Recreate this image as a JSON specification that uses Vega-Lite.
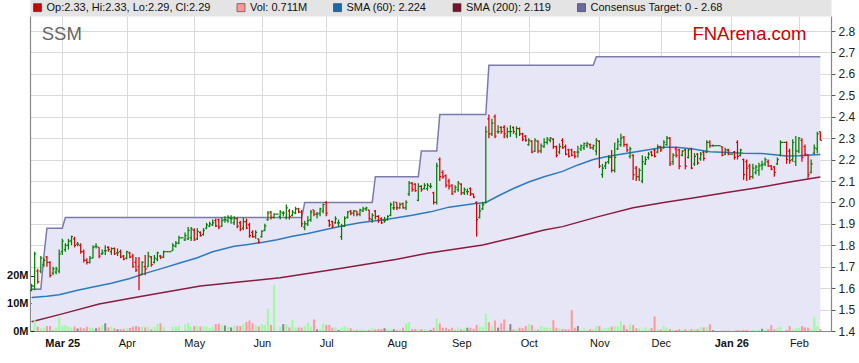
{
"$schema": "https://vega.github.io/schema/vega-lite/v6.json",
"width": 801, "height": 315,
"autosize": "none",
"padding": {"left": 30, "top": 16, "right": 28, "bottom": 32},
"background": "#ffffff",
"config": {"font": "Liberation Sans", "view": {"stroke": null}, "axis": {"labelFont": "Liberation Sans"}, "legend": {"labelFont": "Liberation Sans"},
  "axisRight": {"labelOverlap": false}},
"datasets": {
"px": [
{"d":-10,"o":1.59,"h":1.62,"l":1.585,"c":1.61,"v":0.4,"t":1.595},
{"d":-9,"o":1.61,"h":1.77,"l":1.59,"c":1.76,"v":3.9,"t":1.595},
{"d":-8,"o":1.68,"h":1.69,"l":1.62,"c":1.63,"v":1.6,"t":1.595},
{"d":-7,"o":1.68,"h":1.75,"l":1.67,"c":1.74,"v":1.0,"t":1.595},
{"d":-6,"o":1.71,"h":1.74,"l":1.70,"c":1.73,"v":1.3,"t":1.75},
{"d":-5,"o":1.745,"h":1.75,"l":1.70,"c":1.72,"v":1.8,"t":1.88},
{"d":-4,"o":1.72,"h":1.725,"l":1.65,"c":1.66,"v":1.8,"t":1.88},
{"d":-3,"o":1.67,"h":1.70,"l":1.66,"c":1.69,"v":0.7,"t":1.88},
{"d":-2,"o":1.675,"h":1.70,"l":1.665,"c":1.69,"v":1.2,"t":1.88},
{"d":-1,"o":1.68,"h":1.78,"l":1.67,"c":1.76,"v":5.0,"t":1.88},
{"d":0,"o":1.77,"h":1.83,"l":1.755,"c":1.82,"v":1.9,"t":1.88},
{"d":1,"o":1.78,"h":1.81,"l":1.77,"c":1.80,"v":2.2,"t":1.93},
{"d":2,"o":1.80,"h":1.83,"l":1.78,"c":1.82,"v":1.6,"t":1.93},
{"d":3,"o":1.82,"h":1.845,"l":1.80,"c":1.84,"v":1.2,"t":1.93},
{"d":4,"o":1.83,"h":1.84,"l":1.79,"c":1.80,"v":1.6,"t":1.93},
{"d":5,"o":1.805,"h":1.815,"l":1.795,"c":1.805,"v":0.9,"t":1.93},
{"d":6,"o":1.80,"h":1.81,"l":1.76,"c":1.77,"v":1.3,"t":1.93},
{"d":7,"o":1.77,"h":1.78,"l":1.72,"c":1.73,"v":1.0,"t":1.93},
{"d":8,"o":1.73,"h":1.74,"l":1.71,"c":1.72,"v":1.6,"t":1.93},
{"d":9,"o":1.72,"h":1.75,"l":1.715,"c":1.74,"v":1.3,"t":1.93},
{"d":10,"o":1.74,"h":1.80,"l":1.74,"c":1.79,"v":1.2,"t":1.93},
{"d":11,"o":1.795,"h":1.81,"l":1.785,"c":1.795,"v":1.0,"t":1.93},
{"d":12,"o":1.79,"h":1.79,"l":1.74,"c":1.75,"v":1.3,"t":1.93},
{"d":13,"o":1.76,"h":1.78,"l":1.755,"c":1.765,"v":2.2,"t":1.93},
{"d":14,"o":1.775,"h":1.80,"l":1.755,"c":1.775,"v":2.8,"t":1.93},
{"d":15,"o":1.79,"h":1.795,"l":1.77,"c":1.78,"v":1.3,"t":1.93},
{"d":16,"o":1.77,"h":1.79,"l":1.755,"c":1.785,"v":1.6,"t":1.93},
{"d":17,"o":1.785,"h":1.79,"l":1.755,"c":1.76,"v":1.0,"t":1.93},
{"d":18,"o":1.765,"h":1.785,"l":1.75,"c":1.765,"v":0.6,"t":1.93},
{"d":19,"o":1.77,"h":1.78,"l":1.74,"c":1.745,"v":0.7,"t":1.93},
{"d":20,"o":1.75,"h":1.755,"l":1.73,"c":1.735,"v":0.7,"t":1.93},
{"d":21,"o":1.74,"h":1.775,"l":1.735,"c":1.77,"v":1.0,"t":1.93},
{"d":22,"o":1.765,"h":1.77,"l":1.74,"c":1.745,"v":1.1,"t":1.93},
{"d":23,"o":1.75,"h":1.76,"l":1.695,"c":1.70,"v":1.6,"t":1.93},
{"d":24,"o":1.72,"h":1.745,"l":1.675,"c":1.685,"v":1.8,"t":1.93},
{"d":25,"o":1.70,"h":1.745,"l":1.59,"c":1.66,"v":1.5,"t":1.93},
{"d":26,"o":1.665,"h":1.725,"l":1.66,"c":1.72,"v":1.6,"t":1.93},
{"d":27,"o":1.70,"h":1.755,"l":1.66,"c":1.69,"v":1.3,"t":1.93},
{"d":28,"o":1.70,"h":1.77,"l":1.70,"c":1.75,"v":1.5,"t":1.93},
{"d":29,"o":1.745,"h":1.75,"l":1.70,"c":1.71,"v":0.7,"t":1.93},
{"d":30,"o":1.72,"h":1.755,"l":1.715,"c":1.74,"v":1.5,"t":1.93},
{"d":31,"o":1.735,"h":1.77,"l":1.725,"c":1.765,"v":2.6,"t":1.93},
{"d":32,"o":1.75,"h":1.755,"l":1.735,"c":1.745,"v":2.8,"t":1.93},
{"d":33,"o":1.745,"h":1.775,"l":1.74,"c":1.77,"v":1.5,"t":1.93},
{"d":34,"o":1.77,"h":1.77,"l":1.77,"c":1.77,"v":0,"t":1.93},
{"d":35,"o":1.77,"h":1.77,"l":1.77,"c":1.77,"v":0,"t":1.93},
{"d":36,"o":1.775,"h":1.81,"l":1.775,"c":1.80,"v":1.6,"t":1.93},
{"d":37,"o":1.795,"h":1.82,"l":1.79,"c":1.81,"v":1.6,"t":1.93},
{"d":38,"o":1.81,"h":1.845,"l":1.805,"c":1.835,"v":2.0,"t":1.93},
{"d":39,"o":1.835,"h":1.835,"l":1.835,"c":1.835,"v":0,"t":1.93},
{"d":40,"o":1.825,"h":1.86,"l":1.82,"c":1.845,"v":2.4,"t":1.93},
{"d":41,"o":1.83,"h":1.885,"l":1.825,"c":1.87,"v":2.9,"t":1.93},
{"d":42,"o":1.835,"h":1.885,"l":1.82,"c":1.875,"v":1.6,"t":1.93},
{"d":43,"o":1.87,"h":1.88,"l":1.82,"c":1.825,"v":1.8,"t":1.93},
{"d":44,"o":1.83,"h":1.88,"l":1.825,"c":1.865,"v":1.9,"t":1.93},
{"d":45,"o":1.86,"h":1.865,"l":1.84,"c":1.845,"v":1.6,"t":1.93},
{"d":46,"o":1.85,"h":1.88,"l":1.845,"c":1.87,"v":1.6,"t":1.93},
{"d":47,"o":1.88,"h":1.905,"l":1.875,"c":1.895,"v":1.6,"t":1.93},
{"d":48,"o":1.89,"h":1.91,"l":1.885,"c":1.90,"v":1.1,"t":1.93},
{"d":49,"o":1.895,"h":1.92,"l":1.89,"c":1.905,"v":1.6,"t":1.93},
{"d":50,"o":1.915,"h":1.925,"l":1.885,"c":1.89,"v":2.5,"t":1.93},
{"d":51,"o":1.92,"h":1.925,"l":1.875,"c":1.885,"v":2.7,"t":1.93},
{"d":52,"o":1.89,"h":1.93,"l":1.885,"c":1.915,"v":2.0,"t":1.93},
{"d":53,"o":1.92,"h":1.935,"l":1.905,"c":1.92,"v":2.0,"t":1.93},
{"d":54,"o":1.915,"h":1.94,"l":1.905,"c":1.93,"v":1.6,"t":1.93},
{"d":55,"o":1.925,"h":1.94,"l":1.90,"c":1.925,"v":1.3,"t":1.93},
{"d":56,"o":1.905,"h":1.935,"l":1.895,"c":1.925,"v":1.9,"t":1.93},
{"d":57,"o":1.925,"h":1.93,"l":1.88,"c":1.89,"v":1.9,"t":1.93},
{"d":58,"o":1.905,"h":1.915,"l":1.865,"c":1.875,"v":1.8,"t":1.93},
{"d":59,"o":1.88,"h":1.93,"l":1.87,"c":1.91,"v":2.4,"t":1.93},
{"d":60,"o":1.91,"h":1.925,"l":1.875,"c":1.88,"v":3.3,"t":1.93},
{"d":61,"o":1.895,"h":1.905,"l":1.835,"c":1.845,"v":3.8,"t":1.93},
{"d":62,"o":1.86,"h":1.87,"l":1.835,"c":1.84,"v":2.8,"t":1.93},
{"d":63,"o":1.84,"h":1.87,"l":1.83,"c":1.86,"v":2.2,"t":1.93},
{"d":64,"o":1.83,"h":1.83,"l":1.81,"c":1.815,"v":1.6,"t":1.93},
{"d":65,"o":1.84,"h":1.87,"l":1.835,"c":1.865,"v":2.5,"t":1.93},
{"d":66,"o":1.87,"h":1.90,"l":1.865,"c":1.89,"v":2.2,"t":1.93},
{"d":67,"o":1.92,"h":1.96,"l":1.915,"c":1.95,"v":8.1,"t":1.93},
{"d":68,"o":1.955,"h":1.96,"l":1.92,"c":1.93,"v":2.2,"t":1.93},
{"d":69,"o":1.93,"h":1.95,"l":1.925,"c":1.945,"v":16.8,"t":1.93},
{"d":70,"o":1.945,"h":1.945,"l":1.945,"c":1.945,"v":0,"t":1.93},
{"d":71,"o":1.935,"h":1.965,"l":1.92,"c":1.955,"v":1.6,"t":1.93},
{"d":72,"o":1.95,"h":1.96,"l":1.935,"c":1.95,"v":2.5,"t":1.93},
{"d":73,"o":1.93,"h":1.99,"l":1.92,"c":1.975,"v":2.5,"t":1.93},
{"d":74,"o":1.96,"h":1.97,"l":1.92,"c":1.935,"v":1.3,"t":1.93},
{"d":75,"o":1.94,"h":1.965,"l":1.935,"c":1.955,"v":4.0,"t":1.93},
{"d":76,"o":1.95,"h":1.98,"l":1.945,"c":1.97,"v":1.3,"t":1.93},
{"d":77,"o":1.97,"h":1.975,"l":1.95,"c":1.955,"v":1.3,"t":1.93},
{"d":78,"o":1.955,"h":1.965,"l":1.885,"c":1.90,"v":1.2,"t":1.93},
{"d":79,"o":1.885,"h":1.915,"l":1.87,"c":1.90,"v":1.8,"t":2.00},
{"d":80,"o":1.90,"h":1.935,"l":1.89,"c":1.915,"v":3.0,"t":2.00},
{"d":81,"o":1.92,"h":1.965,"l":1.91,"c":1.955,"v":1.6,"t":2.00},
{"d":82,"o":1.965,"h":1.965,"l":1.935,"c":1.945,"v":4.2,"t":2.00},
{"d":83,"o":1.945,"h":1.955,"l":1.925,"c":1.945,"v":0.6,"t":2.00},
{"d":84,"o":1.95,"h":1.975,"l":1.935,"c":1.97,"v":0.7,"t":2.00},
{"d":85,"o":1.96,"h":1.995,"l":1.95,"c":1.99,"v":2.8,"t":2.00},
{"d":86,"o":2.00,"h":2.005,"l":1.935,"c":1.95,"v":2.2,"t":2.00},
{"d":87,"o":1.915,"h":1.92,"l":1.885,"c":1.895,"v":2.2,"t":2.00},
{"d":88,"o":1.91,"h":1.915,"l":1.88,"c":1.89,"v":1.2,"t":2.00},
{"d":89,"o":1.905,"h":1.935,"l":1.90,"c":1.925,"v":1.3,"t":2.00},
{"d":90,"o":1.905,"h":1.92,"l":1.885,"c":1.905,"v":0.4,"t":2.00},
{"d":91,"o":1.84,"h":1.90,"l":1.825,"c":1.89,"v":1.3,"t":2.00},
{"d":92,"o":1.89,"h":1.935,"l":1.885,"c":1.925,"v":1.8,"t":2.00},
{"d":93,"o":1.93,"h":1.96,"l":1.925,"c":1.955,"v":1.2,"t":2.00},
{"d":94,"o":1.96,"h":1.965,"l":1.94,"c":1.95,"v":1.0,"t":2.00},
{"d":95,"o":1.95,"h":1.965,"l":1.935,"c":1.96,"v":0.6,"t":2.00},
{"d":96,"o":1.96,"h":1.96,"l":1.935,"c":1.945,"v":0.4,"t":2.00},
{"d":97,"o":1.945,"h":1.97,"l":1.935,"c":1.965,"v":0.6,"t":2.00},
{"d":98,"o":1.96,"h":1.98,"l":1.955,"c":1.97,"v":0.6,"t":2.00},
{"d":99,"o":1.97,"h":1.98,"l":1.96,"c":1.975,"v":0.4,"t":2.00},
{"d":100,"o":1.965,"h":1.965,"l":1.915,"c":1.925,"v":0.4,"t":2.00},
{"d":101,"o":1.92,"h":1.95,"l":1.905,"c":1.94,"v":1.0,"t":2.00},
{"d":102,"o":1.96,"h":1.965,"l":1.92,"c":1.935,"v":0.6,"t":2.12},
{"d":103,"o":1.935,"h":1.94,"l":1.905,"c":1.915,"v":0.7,"t":2.12},
{"d":104,"o":1.925,"h":1.93,"l":1.90,"c":1.905,"v":0.7,"t":2.12},
{"d":105,"o":1.915,"h":1.933,"l":1.905,"c":1.915,"v":1.0,"t":2.12},
{"d":106,"o":1.92,"h":1.94,"l":1.915,"c":1.935,"v":0.7,"t":2.12},
{"d":107,"o":1.94,"h":2.00,"l":1.935,"c":1.99,"v":0.7,"t":2.12},
{"d":108,"o":1.975,"h":2.005,"l":1.965,"c":1.975,"v":0.6,"t":2.12},
{"d":109,"o":2.00,"h":2.00,"l":1.965,"c":1.975,"v":0.4,"t":2.12},
{"d":110,"o":1.975,"h":2.00,"l":1.97,"c":1.99,"v":0.6,"t":2.12},
{"d":111,"o":1.995,"h":2.00,"l":1.97,"c":1.975,"v":1.2,"t":2.12},
{"d":112,"o":1.975,"h":2.01,"l":1.965,"c":2.00,"v":2.8,"t":2.12},
{"d":113,"o":2.04,"h":2.10,"l":2.03,"c":2.09,"v":3.2,"t":2.12},
{"d":114,"o":2.09,"h":2.095,"l":2.05,"c":2.06,"v":0.7,"t":2.12},
{"d":115,"o":2.085,"h":2.09,"l":2.05,"c":2.055,"v":0.7,"t":2.12},
{"d":116,"o":2.01,"h":2.09,"l":2.005,"c":2.075,"v":0.6,"t":2.12},
{"d":117,"o":2.075,"h":2.08,"l":2.05,"c":2.06,"v":0.7,"t":2.24},
{"d":118,"o":2.065,"h":2.09,"l":2.06,"c":2.08,"v":0.7,"t":2.24},
{"d":119,"o":2.065,"h":2.09,"l":2.055,"c":2.08,"v":0.4,"t":2.24},
{"d":120,"o":2.075,"h":2.09,"l":2.065,"c":2.075,"v":0.4,"t":2.24},
{"d":121,"o":2.045,"h":2.05,"l":1.99,"c":2.00,"v":1.2,"t":2.24},
{"d":122,"o":2.00,"h":2.185,"l":1.99,"c":2.17,"v":4.6,"t":2.24},
{"d":123,"o":2.20,"h":2.21,"l":2.10,"c":2.12,"v":2.8,"t":2.41},
{"d":124,"o":2.14,"h":2.15,"l":2.11,"c":2.12,"v":1.2,"t":2.41},
{"d":125,"o":2.125,"h":2.13,"l":2.07,"c":2.08,"v":1.2,"t":2.41},
{"d":126,"o":2.10,"h":2.11,"l":2.06,"c":2.075,"v":0.7,"t":2.41},
{"d":127,"o":2.08,"h":2.085,"l":2.035,"c":2.04,"v":1.2,"t":2.41},
{"d":128,"o":2.05,"h":2.08,"l":2.045,"c":2.07,"v":0.7,"t":2.41},
{"d":129,"o":2.06,"h":2.10,"l":2.05,"c":2.09,"v":1.3,"t":2.41},
{"d":130,"o":2.085,"h":2.09,"l":2.035,"c":2.045,"v":0.7,"t":2.41},
{"d":131,"o":2.045,"h":2.07,"l":2.035,"c":2.06,"v":1.0,"t":2.41},
{"d":132,"o":2.05,"h":2.065,"l":2.035,"c":2.05,"v":1.2,"t":2.41},
{"d":133,"o":2.065,"h":2.07,"l":2.03,"c":2.04,"v":1.2,"t":2.41},
{"d":134,"o":2.04,"h":2.04,"l":2.02,"c":2.025,"v":0.8,"t":2.41},
{"d":135,"o":2.00,"h":2.005,"l":1.84,"c":1.92,"v":2.2,"t":2.41},
{"d":136,"o":1.93,"h":1.99,"l":1.925,"c":1.96,"v":1.6,"t":2.41},
{"d":137,"o":1.97,"h":2.003,"l":1.965,"c":1.99,"v":1.5,"t":2.41},
{"d":138,"o":2.00,"h":2.355,"l":1.995,"c":2.33,"v":6.2,"t":2.41},
{"d":139,"o":2.39,"h":2.41,"l":2.30,"c":2.32,"v":3.2,"t":2.64},
{"d":140,"o":2.32,"h":2.39,"l":2.31,"c":2.37,"v":1.6,"t":2.64},
{"d":141,"o":2.40,"h":2.41,"l":2.30,"c":2.31,"v":3.8,"t":2.64},
{"d":142,"o":2.33,"h":2.36,"l":2.32,"c":2.33,"v":1.2,"t":2.64},
{"d":143,"o":2.35,"h":2.355,"l":2.32,"c":2.33,"v":2.8,"t":2.64},
{"d":144,"o":2.35,"h":2.36,"l":2.30,"c":2.32,"v":4.2,"t":2.64},
{"d":145,"o":2.31,"h":2.35,"l":2.30,"c":2.33,"v":0.6,"t":2.64},
{"d":146,"o":2.33,"h":2.36,"l":2.305,"c":2.33,"v":2.5,"t":2.64},
{"d":147,"o":2.35,"h":2.355,"l":2.32,"c":2.33,"v":0.6,"t":2.64},
{"d":148,"o":2.32,"h":2.355,"l":2.30,"c":2.345,"v":0.7,"t":2.64},
{"d":149,"o":2.345,"h":2.35,"l":2.31,"c":2.32,"v":1.2,"t":2.64},
{"d":150,"o":2.32,"h":2.325,"l":2.285,"c":2.295,"v":1.0,"t":2.64},
{"d":151,"o":2.31,"h":2.315,"l":2.283,"c":2.29,"v":1.8,"t":2.64},
{"d":152,"o":2.27,"h":2.30,"l":2.265,"c":2.29,"v":2.5,"t":2.64},
{"d":153,"o":2.285,"h":2.29,"l":2.23,"c":2.235,"v":2.2,"t":2.64},
{"d":154,"o":2.24,"h":2.30,"l":2.235,"c":2.29,"v":0.6,"t":2.64},
{"d":155,"o":2.285,"h":2.29,"l":2.23,"c":2.24,"v":0.6,"t":2.64},
{"d":156,"o":2.24,"h":2.275,"l":2.23,"c":2.265,"v":1.8,"t":2.64},
{"d":157,"o":2.26,"h":2.30,"l":2.255,"c":2.28,"v":1.3,"t":2.64},
{"d":158,"o":2.28,"h":2.305,"l":2.27,"c":2.295,"v":1.2,"t":2.64},
{"d":159,"o":2.29,"h":2.305,"l":2.28,"c":2.30,"v":1.0,"t":2.64},
{"d":160,"o":2.295,"h":2.30,"l":2.25,"c":2.26,"v":3.9,"t":2.64},
{"d":161,"o":2.26,"h":2.265,"l":2.21,"c":2.22,"v":1.2,"t":2.64},
{"d":162,"o":2.235,"h":2.275,"l":2.225,"c":2.26,"v":1.0,"t":2.64},
{"d":163,"o":2.29,"h":2.30,"l":2.25,"c":2.255,"v":0.7,"t":2.64},
{"d":164,"o":2.26,"h":2.27,"l":2.22,"c":2.225,"v":0.6,"t":2.64},
{"d":165,"o":2.245,"h":2.25,"l":2.21,"c":2.215,"v":0.6,"t":2.64},
{"d":166,"o":2.245,"h":2.25,"l":2.215,"c":2.22,"v":7.6,"t":2.64},
{"d":167,"o":2.235,"h":2.24,"l":2.205,"c":2.215,"v":1.2,"t":2.64},
{"d":168,"o":2.235,"h":2.265,"l":2.21,"c":2.235,"v":1.8,"t":2.64},
{"d":169,"o":2.25,"h":2.27,"l":2.24,"c":2.265,"v":0.4,"t":2.64},
{"d":170,"o":2.255,"h":2.28,"l":2.245,"c":2.275,"v":1.0,"t":2.64},
{"d":171,"o":2.265,"h":2.283,"l":2.255,"c":2.275,"v":0.4,"t":2.64},
{"d":172,"o":2.27,"h":2.275,"l":2.25,"c":2.255,"v":0.7,"t":2.64},
{"d":173,"o":2.255,"h":2.27,"l":2.245,"c":2.265,"v":0.7,"t":2.64},
{"d":174,"o":2.24,"h":2.30,"l":2.22,"c":2.29,"v":1.9,"t":2.68},
{"d":175,"o":2.285,"h":2.29,"l":2.16,"c":2.17,"v":1.8,"t":2.68},
{"d":176,"o":2.13,"h":2.18,"l":2.115,"c":2.16,"v":0.7,"t":2.68},
{"d":177,"o":2.17,"h":2.19,"l":2.155,"c":2.185,"v":1.1,"t":2.68},
{"d":178,"o":2.19,"h":2.22,"l":2.18,"c":2.21,"v":1.2,"t":2.68},
{"d":179,"o":2.21,"h":2.245,"l":2.14,"c":2.15,"v":1.6,"t":2.68},
{"d":180,"o":2.15,"h":2.28,"l":2.14,"c":2.21,"v":1.8,"t":2.68},
{"d":181,"o":2.25,"h":2.30,"l":2.245,"c":2.285,"v":1.6,"t":2.68},
{"d":182,"o":2.27,"h":2.32,"l":2.26,"c":2.30,"v":3.6,"t":2.68},
{"d":183,"o":2.305,"h":2.31,"l":2.26,"c":2.27,"v":2.2,"t":2.68},
{"d":184,"o":2.27,"h":2.275,"l":2.235,"c":2.245,"v":0.7,"t":2.68},
{"d":185,"o":2.215,"h":2.26,"l":2.205,"c":2.25,"v":2.5,"t":2.68},
{"d":186,"o":2.22,"h":2.225,"l":2.105,"c":2.13,"v":2.2,"t":2.68},
{"d":187,"o":2.16,"h":2.17,"l":2.10,"c":2.12,"v":1.0,"t":2.68},
{"d":188,"o":2.12,"h":2.16,"l":2.10,"c":2.15,"v":1.0,"t":2.68},
{"d":189,"o":2.10,"h":2.22,"l":2.09,"c":2.19,"v":0.4,"t":2.68},
{"d":190,"o":2.18,"h":2.215,"l":2.175,"c":2.20,"v":1.3,"t":2.68},
{"d":191,"o":2.21,"h":2.235,"l":2.20,"c":2.225,"v":0.7,"t":2.68},
{"d":192,"o":2.235,"h":2.24,"l":2.215,"c":2.22,"v":1.1,"t":2.68},
{"d":193,"o":2.245,"h":2.25,"l":2.21,"c":2.215,"v":5.3,"t":2.68},
{"d":194,"o":2.235,"h":2.27,"l":2.23,"c":2.26,"v":0.7,"t":2.68},
{"d":195,"o":2.26,"h":2.265,"l":2.235,"c":2.245,"v":0.6,"t":2.68},
{"d":196,"o":2.255,"h":2.29,"l":2.25,"c":2.28,"v":1.8,"t":2.68},
{"d":197,"o":2.27,"h":2.31,"l":2.265,"c":2.30,"v":1.2,"t":2.68},
{"d":198,"o":2.30,"h":2.305,"l":2.17,"c":2.18,"v":0.7,"t":2.68},
{"d":199,"o":2.19,"h":2.23,"l":2.175,"c":2.22,"v":0.4,"t":2.68},
{"d":200,"o":2.25,"h":2.26,"l":2.21,"c":2.22,"v":0.4,"t":2.68},
{"d":201,"o":2.245,"h":2.25,"l":2.155,"c":2.17,"v":0.7,"t":2.68},
{"d":202,"o":2.22,"h":2.245,"l":2.215,"c":2.24,"v":0.4,"t":2.68},
{"d":203,"o":2.245,"h":2.25,"l":2.155,"c":2.17,"v":0.7,"t":2.68},
{"d":204,"o":2.21,"h":2.25,"l":2.205,"c":2.245,"v":0.4,"t":2.68},
{"d":205,"o":2.25,"h":2.255,"l":2.155,"c":2.16,"v":0.7,"t":2.68},
{"d":206,"o":2.18,"h":2.23,"l":2.17,"c":2.215,"v":0.7,"t":2.68},
{"d":207,"o":2.225,"h":2.23,"l":2.175,"c":2.185,"v":0.7,"t":2.68},
{"d":208,"o":2.205,"h":2.235,"l":2.195,"c":2.225,"v":1.4,"t":2.68},
{"d":209,"o":2.235,"h":2.24,"l":2.195,"c":2.205,"v":1.3,"t":2.68},
{"d":210,"o":2.235,"h":2.29,"l":2.23,"c":2.28,"v":1.3,"t":2.68},
{"d":211,"o":2.28,"h":2.29,"l":2.255,"c":2.265,"v":2.5,"t":2.68},
{"d":212,"o":2.265,"h":2.27,"l":2.26,"c":2.265,"v":0.3,"t":2.68},
{"d":213,"o":2.265,"h":2.265,"l":2.265,"c":2.265,"v":0,"t":2.68},
{"d":214,"o":2.265,"h":2.265,"l":2.265,"c":2.265,"v":0,"t":2.68},
{"d":215,"o":2.26,"h":2.262,"l":2.215,"c":2.22,"v":0.1,"t":2.68},
{"d":216,"o":2.225,"h":2.255,"l":2.22,"c":2.245,"v":0.4,"t":2.68},
{"d":217,"o":2.245,"h":2.25,"l":2.22,"c":2.225,"v":0.1,"t":2.68},
{"d":218,"o":2.225,"h":2.225,"l":2.225,"c":2.225,"v":0,"t":2.68},
{"d":219,"o":2.235,"h":2.24,"l":2.20,"c":2.21,"v":0.1,"t":2.68},
{"d":220,"o":2.28,"h":2.29,"l":2.20,"c":2.215,"v":0.4,"t":2.68},
{"d":221,"o":2.22,"h":2.25,"l":2.215,"c":2.245,"v":0.6,"t":2.68},
{"d":222,"o":2.20,"h":2.205,"l":2.105,"c":2.13,"v":0.4,"t":2.68},
{"d":223,"o":2.19,"h":2.20,"l":2.10,"c":2.16,"v":0.4,"t":2.68},
{"d":224,"o":2.17,"h":2.18,"l":2.105,"c":2.12,"v":0.1,"t":2.68},
{"d":225,"o":2.12,"h":2.18,"l":2.11,"c":2.16,"v":0.4,"t":2.68},
{"d":226,"o":2.14,"h":2.175,"l":2.13,"c":2.165,"v":0.3,"t":2.68},
{"d":227,"o":2.15,"h":2.185,"l":2.125,"c":2.17,"v":0.4,"t":2.68},
{"d":228,"o":2.175,"h":2.195,"l":2.15,"c":2.175,"v":0.8,"t":2.68},
{"d":229,"o":2.18,"h":2.21,"l":2.17,"c":2.20,"v":0.4,"t":2.68},
{"d":230,"o":2.19,"h":2.20,"l":2.165,"c":2.17,"v":0.7,"t":2.68},
{"d":231,"o":2.17,"h":2.175,"l":2.15,"c":2.155,"v":2.2,"t":2.68},
{"d":232,"o":2.165,"h":2.17,"l":2.12,"c":2.14,"v":0.6,"t":2.68},
{"d":233,"o":2.18,"h":2.21,"l":2.175,"c":2.20,"v":1.0,"t":2.68},
{"d":234,"o":2.22,"h":2.29,"l":2.215,"c":2.28,"v":1.5,"t":2.68},
{"d":235,"o":2.28,"h":2.28,"l":2.28,"c":2.28,"v":0,"t":2.68},
{"d":236,"o":2.28,"h":2.285,"l":2.18,"c":2.20,"v":0.4,"t":2.68},
{"d":237,"o":2.24,"h":2.25,"l":2.18,"c":2.195,"v":1.8,"t":2.68},
{"d":238,"o":2.20,"h":2.295,"l":2.19,"c":2.28,"v":0.7,"t":2.68},
{"d":239,"o":2.19,"h":2.31,"l":2.17,"c":2.24,"v":1.0,"t":2.68},
{"d":240,"o":2.24,"h":2.305,"l":2.23,"c":2.30,"v":1.2,"t":2.68},
{"d":241,"o":2.29,"h":2.30,"l":2.19,"c":2.21,"v":1.8,"t":2.68},
{"d":242,"o":2.26,"h":2.27,"l":2.215,"c":2.225,"v":1.3,"t":2.68},
{"d":243,"o":2.22,"h":2.225,"l":2.11,"c":2.13,"v":1.2,"t":2.68},
{"d":244,"o":2.14,"h":2.20,"l":2.135,"c":2.18,"v":0.7,"t":2.68},
{"d":245,"o":2.23,"h":2.27,"l":2.225,"c":2.255,"v":5.0,"t":2.68},
{"d":246,"o":2.25,"h":2.33,"l":2.23,"c":2.32,"v":1.8,"t":2.68},
{"d":247,"o":2.33,"h":2.33,"l":2.29,"c":2.29,"v":0.711,"t":2.68}
],
"sma60": [
{"d":-10,"v":1.556},{"d":-5,"v":1.562},{"d":-1,"v":1.569},{"d":5,"v":1.59},{"d":10,"v":1.605},{"d":16,"v":1.623},{"d":22,"v":1.645},{"d":27,"v":1.669},{"d":32,"v":1.69},{"d":38,"v":1.716},{"d":44,"v":1.742},{"d":49,"v":1.77},{"d":56,"v":1.795},{"d":60,"v":1.803},{"d":65,"v":1.813},{"d":70,"v":1.826},{"d":75,"v":1.842},{"d":80,"v":1.855},{"d":87,"v":1.877},{"d":92,"v":1.892},{"d":97,"v":1.905},{"d":104,"v":1.918},{"d":108,"v":1.926},{"d":114,"v":1.94},{"d":120,"v":1.956},{"d":126,"v":1.978},{"d":134,"v":1.994},{"d":138,"v":2.0},{"d":142,"v":2.03},{"d":147,"v":2.065},{"d":152,"v":2.095},{"d":157,"v":2.12},{"d":163,"v":2.145},{"d":168,"v":2.175},{"d":173,"v":2.2},{"d":178,"v":2.215},{"d":184,"v":2.229},{"d":190,"v":2.243},{"d":196,"v":2.257},{"d":200,"v":2.258},{"d":205,"v":2.25},{"d":211,"v":2.237},{"d":217,"v":2.233},{"d":222,"v":2.229},{"d":228,"v":2.228},{"d":232,"v":2.222},{"d":236,"v":2.217},{"d":240,"v":2.218},{"d":244,"v":2.221},{"d":247,"v":2.224}
],
"sma200": [
{"d":-10,"v":1.443},{"d":0,"v":1.48},{"d":12,"v":1.526},{"d":25,"v":1.56},{"d":45,"v":1.61},{"d":71,"v":1.648},{"d":90,"v":1.69},{"d":109,"v":1.735},{"d":119,"v":1.763},{"d":137,"v":1.801},{"d":147,"v":1.835},{"d":157,"v":1.871},{"d":163,"v":1.887},{"d":175,"v":1.935},{"d":186,"v":1.975},{"d":196,"v":2.0},{"d":206,"v":2.022},{"d":217,"v":2.047},{"d":227,"v":2.07},{"d":237,"v":2.095},{"d":247,"v":2.119}
]
},
"layer": [
{
"data": {"name": "px"},
"layer": [
{"mark": {"type": "area", "color": "#e6e6f6", "line": false},
 "encoding": {
  "x": {"field": "d", "type": "quantitative", "title": null,
        "scale": {"domain": [-10.52, 250.47], "nice": false, "zero": false},
        "axis": {"orient": "bottom", "values": [0,21,43,65,86,109,130,152,175,195,218,240],
                 "labelExpr": "['Mar 25','Apr','May','Jun','Jul','Aug','Sep','Oct','Nov','Dec','Jan 26','Feb'][indexof([0,21,43,65,86,109,130,152,175,195,218,240], datum.value)]",
                 "labelFontWeight": {"condition": {"test": "datum.value == 0 || datum.value == 218", "value": "bold"}, "value": "normal"},
                 "labelFontSize": 11, "labelColor": "#111111", "ticks": false, "labelPadding": 6, "labelOverlap": false, "labelFlush": false,
                 "grid": true, "gridColor": "#d9d9d9", "domainColor": "#888888", "domainWidth": 1.2, "title": null}},
  "y": {"field": "t", "type": "quantitative", "title": null,
        "scale": {"domain": [1.4, 2.87], "nice": false, "zero": false},
        "axis": {"orient": "right", "values": [1.4,1.5,1.6,1.7,1.8,1.9,2.0,2.1,2.2,2.3,2.4,2.5,2.6,2.7,2.8], "format": ".1f", "labelOverlap": false,
                 "grid": true, "gridColor": "#d9d9d9", "tickSize": 4, "tickColor": "#555555", "labelPadding": 3,
                 "labelFontSize": 12, "labelColor": "#222222", "domainColor": "#888888", "domainWidth": 1.2, "title": null}},
  "y2": {"datum": 1.4}
 }},
{"mark": {"type": "line", "color": "#7b7bab", "strokeWidth": 1.5},
 "encoding": {"x": {"field": "d", "type": "quantitative", "title": null},
  "y": {"field": "t", "type": "quantitative", "title": null,
        "axis": {"orient": "right", "values": [1.4,1.5,1.6,1.7,1.8,1.9,2.0,2.1,2.2,2.3,2.4,2.5,2.6,2.7,2.8], "format": ".1f", "labelOverlap": false,
                 "grid": true, "gridColor": "#d9d9d9", "tickSize": 4, "tickColor": "#555555", "labelPadding": 3,
                 "labelFontSize": 12, "labelColor": "#222222", "domainColor": "#888888", "domainWidth": 1.2, "title": null}}}},
{"data": {"name": "sma200"}, "mark": {"type": "line", "color": "#8a1c40", "strokeWidth": 1.5},
 "encoding": {"x": {"field": "d", "type": "quantitative", "title": null},
  "y": {"field": "v", "type": "quantitative", "title": null,
        "axis": {"orient": "right", "values": [1.4,1.5,1.6,1.7,1.8,1.9,2.0,2.1,2.2,2.3,2.4,2.5,2.6,2.7,2.8], "format": ".1f", "labelOverlap": false,
                 "grid": true, "gridColor": "#d9d9d9", "tickSize": 4, "tickColor": "#555555", "labelPadding": 3,
                 "labelFontSize": 12, "labelColor": "#222222", "domainColor": "#888888", "domainWidth": 1.2, "title": null}}}},
{"data": {"name": "sma60"}, "mark": {"type": "line", "color": "#2c7bbf", "strokeWidth": 1.5},
 "encoding": {"x": {"field": "d", "type": "quantitative", "title": null},
  "y": {"field": "v", "type": "quantitative", "title": null,
        "axis": {"orient": "right", "values": [1.4,1.5,1.6,1.7,1.8,1.9,2.0,2.1,2.2,2.3,2.4,2.5,2.6,2.7,2.8], "format": ".1f", "labelOverlap": false,
                 "grid": true, "gridColor": "#d9d9d9", "tickSize": 4, "tickColor": "#555555", "labelPadding": 3,
                 "labelFontSize": 12, "labelColor": "#222222", "domainColor": "#888888", "domainWidth": 1.2, "title": null}}}},
{"mark": {"type": "rule", "strokeWidth": 1.25},
 "encoding": {"x": {"field": "d", "type": "quantitative", "title": null},
  "y": {"field": "l", "type": "quantitative", "title": null,
        "axis": {"orient": "right", "values": [1.4,1.5,1.6,1.7,1.8,1.9,2.0,2.1,2.2,2.3,2.4,2.5,2.6,2.7,2.8], "format": ".1f", "labelOverlap": false,
                 "grid": true, "gridColor": "#d9d9d9", "tickSize": 4, "tickColor": "#555555", "labelPadding": 3,
                 "labelFontSize": 12, "labelColor": "#222222", "domainColor": "#888888", "domainWidth": 1.2, "title": null}},
  "y2": {"field": "h"},
  "color": {"condition": {"test": "datum.c < datum.o", "value": "#dd0000"}, "value": "#008000"}}},
{"mark": {"type": "rule", "strokeWidth": 1.25, "xOffset": -1.5},
 "encoding": {"x": {"field": "d", "type": "quantitative", "title": null}, "x2": {"field": "d"},
  "y": {"field": "o", "type": "quantitative", "title": null,
        "axis": {"orient": "right", "values": [1.4,1.5,1.6,1.7,1.8,1.9,2.0,2.1,2.2,2.3,2.4,2.5,2.6,2.7,2.8], "format": ".1f", "labelOverlap": false,
                 "grid": true, "gridColor": "#d9d9d9", "tickSize": 4, "tickColor": "#555555", "labelPadding": 3,
                 "labelFontSize": 12, "labelColor": "#222222", "domainColor": "#888888", "domainWidth": 1.2, "title": null}},
  "color": {"condition": {"test": "datum.c < datum.o", "value": "#dd0000"}, "value": "#008000"}}},
{"mark": {"type": "rule", "strokeWidth": 1.25, "x2Offset": 1.5},
 "encoding": {"x": {"field": "d", "type": "quantitative", "title": null}, "x2": {"field": "d"},
  "y": {"field": "c", "type": "quantitative", "title": null,
        "axis": {"orient": "right", "values": [1.4,1.5,1.6,1.7,1.8,1.9,2.0,2.1,2.2,2.3,2.4,2.5,2.6,2.7,2.8], "format": ".1f", "labelOverlap": false,
                 "grid": true, "gridColor": "#d9d9d9", "tickSize": 4, "tickColor": "#555555", "labelPadding": 3,
                 "labelFontSize": 12, "labelColor": "#222222", "domainColor": "#888888", "domainWidth": 1.2, "title": null}},
  "color": {"condition": {"test": "datum.c < datum.o", "value": "#dd0000"}, "value": "#008000"}}},
{"data": {"values": [{"label": "SSM"}]},
 "mark": {"type": "text", "align": "left", "baseline": "alphabetic", "fontSize": 18.5, "color": "#666666", "font": "Liberation Sans"},
 "encoding": {"x": {"datum": -6.7}, "y": {"datum": 2.758,
        "axis": {"orient": "right", "values": [1.4,1.5,1.6,1.7,1.8,1.9,2.0,2.1,2.2,2.3,2.4,2.5,2.6,2.7,2.8], "format": ".1f", "labelOverlap": false,
                 "grid": true, "gridColor": "#d9d9d9", "tickSize": 4, "tickColor": "#555555", "labelPadding": 3,
                 "labelFontSize": 12, "labelColor": "#222222", "domainColor": "#888888", "domainWidth": 1.2, "title": null}}, "text": {"field": "label"}}},
{"data": {"values": [{"label": "FNArena.com"}]},
 "mark": {"type": "text", "align": "right", "baseline": "alphabetic", "fontSize": 18.5, "color": "#cc0000", "font": "Liberation Sans"},
 "encoding": {"x": {"datum": 242.5}, "y": {"datum": 2.758,
        "axis": {"orient": "right", "values": [1.4,1.5,1.6,1.7,1.8,1.9,2.0,2.1,2.2,2.3,2.4,2.5,2.6,2.7,2.8], "format": ".1f", "labelOverlap": false,
                 "grid": true, "gridColor": "#d9d9d9", "tickSize": 4, "tickColor": "#555555", "labelPadding": 3,
                 "labelFontSize": 12, "labelColor": "#222222", "domainColor": "#888888", "domainWidth": 1.2, "title": null}}, "text": {"field": "label"}}},
{"data": {"values": []},
 "mark": {"type": "square", "filled": true},
 "encoding": {"color": {"field": "k", "type": "nominal",
   "scale": {"domain": ["Op:2.33, Hi:2.33, Lo:2.29, Cl:2.29", "Vol: 0.711M", "SMA (60): 2.224", "SMA (200): 2.119", "Consensus Target: 0 - 2.68"],
             "range": ["#cc0000", "#ff9999", "#1a6aaa", "#7a0f2e", "#6a6a9c"]},
   "legend": {"orient": "none", "legendX": 0, "legendY": -16, "direction": "horizontal", "columns": 5, "columnPadding": 24.5,
              "symbolType": "square", "symbolSize": 64, "symbolStrokeColor": "#333333", "symbolStrokeWidth": 0.6, "symbolOpacity": 1,
              "labelFontSize": 11, "labelColor": "#111111", "labelOffset": 3.5, "labelLimit": 400, "padding": 2, "title": null}}}}
]
},
{
"data": {"name": "px"},
"mark": {"type": "rule", "strokeWidth": 2},
"encoding": {
 "x": {"field": "d", "type": "quantitative", "title": null,
       "scale": {"domain": [-10.52, 250.47], "nice": false, "zero": false},
       "axis": {"orient": "top", "labels": false, "ticks": false, "grid": false, "domainColor": "#e4e4e4", "domainWidth": 17, "offset": 8.5, "title": null}},
 "y": {"field": "v", "type": "quantitative", "title": null,
       "scale": {"domain": [0, 114.5], "nice": false},
       "axis": {"orient": "left", "values": [0, 10, 20], "labelExpr": "datum.value + 'M'", "labelFontWeight": "bold", "labelFontSize": 11,
                "labelColor": "#111111", "tickSize": -4, "labelPadding": 6, "tickColor": "#222222", "domainColor": "#888888", "domainWidth": 1.2,
                "grid": false, "title": null}},
 "y2": {"datum": 0},
 "color": {"condition": [{"test": "datum.c > datum.o", "value": "#99ff99"}, {"test": "datum.c < datum.o", "value": "#ff9999"}], "value": "#888888"}
}
}
],
"resolve": {"scale": {"y": "independent"}, "axis": {"x": "independent", "y": "independent"}}
}
